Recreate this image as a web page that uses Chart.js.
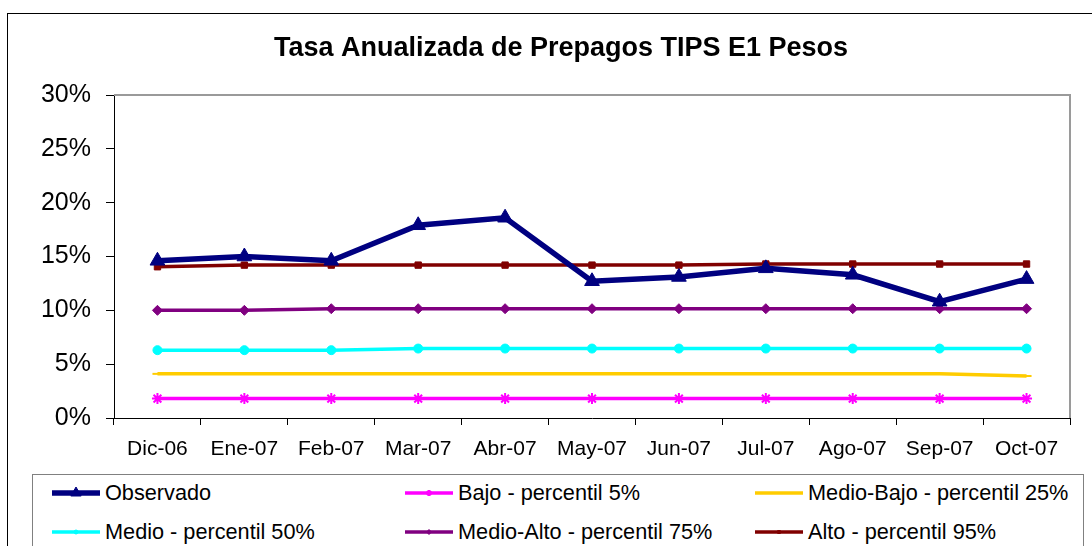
<!DOCTYPE html>
<html>
<head>
<meta charset="utf-8">
<script src="https://cdn.jsdelivr.net/npm/chart.js@4.4.0/dist/chart.umd.min.js"></script>
<style>
  html, body { margin: 0; padding: 0; background: #fff; }
  body { width: 1092px; height: 546px; position: relative; overflow: hidden; font-family: "Liberation Sans", Arial, sans-serif; }
  #outer { position: absolute; left: 7px; top: 13px; width: 1200px; height: 600px; border: 1px solid #000; }
  #chart { position: absolute; left: 0; top: 0; }
  #legendBox { position: absolute; left: 32px; top: 474px; width: 1050px; height: 100px; border: 1.5px solid #808080; background: #fff; }
  .item { position: absolute; height: 24px; line-height: 24px; font-size: 21.7px; color: #000; white-space: nowrap; }
  .item canvas { position: absolute; left: 0; top: 0; }
  .item span { position: absolute; left: 53px; top: 0; }
</style>
</head>
<body>
<div id="outer"></div>
<canvas id="chart" width="1092" height="546"></canvas>
<div id="legendBox"></div>
<div id="legend"></div>
<script>
const months = ["Dic-06", "Ene-07", "Feb-07", "Mar-07", "Abr-07", "May-07", "Jun-07", "Jul-07", "Ago-07", "Sep-07", "Oct-07"];
const observado = [14.6, 15.0, 14.6, 17.9, 18.6, 12.7, 13.1, 13.9, 13.3, 10.8, 12.9];
const bajo5 = [1.8, 1.8, 1.8, 1.8, 1.8, 1.8, 1.8, 1.8, 1.8, 1.8, 1.8];
const medioBajo25 = [4.1, 4.1, 4.1, 4.1, 4.1, 4.1, 4.1, 4.1, 4.1, 4.1, 3.9];
const medio50 = [6.3, 6.3, 6.3, 6.45, 6.45, 6.45, 6.45, 6.45, 6.45, 6.45, 6.45];
const medioAlto75 = [10.0, 10.0, 10.15, 10.15, 10.15, 10.15, 10.15, 10.15, 10.15, 10.15, 10.15];
const alto95 = [14.05, 14.2, 14.2, 14.2, 14.2, 14.2, 14.2, 14.3, 14.3, 14.3, 14.3];
const yTicks = [0, 5, 10, 15, 20, 25, 30];

const FONT = "'Liberation Sans', Arial, sans-serif";

function series(label, data, color, width, style, radius) {
  return {
    label: label,
    data: data,
    borderColor: color,
    backgroundColor: color,
    borderWidth: width,
    pointStyle: style,
    pointRadius: radius,
    pointBorderWidth: style === "star" || style === "line" ? 2 : 1,
    pointBackgroundColor: color,
    pointBorderColor: color,
    tension: 0,
  };
}

const datasets = [
  series("Observado", observado, "#000080", 5.5, "triangle", 8.5),
  series("Bajo - percentil 5%", bajo5, "#FF00FF", 3.5, "star", 5.5),
  series("Medio-Bajo - percentil 25%", medioBajo25, "#FFCC00", 3.5, "line", 5),
  series("Medio - percentil 50%", medio50, "#00FFFF", 3.5, "circle", 4.5),
  series("Medio-Alto - percentil 75%", medioAlto75, "#800080", 3.5, "rectRot", 5),
  series("Alto - percentil 95%", alto95, "#800000", 3.5, "rect", 4.5),
];

// gray frame on top and right of the plot area
const plotFrame = {
  id: "plotFrame",
  afterLayout(chart) {
    // center the title over the whole chart box, not just the canvas minus padding
    const t = chart.titleBlock;
    if (t) { t.left = 52; t.width = t.right - t.left; }
  },
  beforeDatasetsDraw(chart) {
    const a = chart.chartArea;
    const ctx = chart.ctx;
    ctx.save();
    ctx.strokeStyle = "#9a9a9a";
    ctx.lineWidth = 2;
    ctx.beginPath();
    ctx.moveTo(a.left, a.top);
    ctx.lineTo(a.right, a.top);
    ctx.lineTo(a.right, a.bottom);
    ctx.stroke();
    ctx.restore();
  },
};

new Chart(document.getElementById("chart"), {
  type: "line",
  data: { labels: months, datasets: datasets },
  options: {
    responsive: false,
    animation: false,
    layout: { padding: { left: 0, right: 22, top: 0, bottom: 0 } },
    plugins: {
      legend: { display: false },
      tooltip: { enabled: false },
      title: {
        display: true,
        text: "Tasa Anualizada de Prepagos TIPS E1 Pesos",
        color: "#000",
        font: { family: FONT, size: 27, weight: "bold" },
        padding: { top: 32, bottom: 30.6 },
      },
    },
    scales: {
      x: {
        offset: true,
        grid: { offset: true, drawOnChartArea: false, drawTicks: true, tickLength: 7, color: "#000" },
        border: { color: "#000", width: 1 },
        ticks: { color: "#000", font: { family: FONT, size: 21 }, padding: 12, maxRotation: 0, autoSkip: false },
        afterFit(scale) { scale.height = 128; },
      },
      y: {
        min: 0,
        max: 30,
        afterBuildTicks(scale) { scale.ticks = yTicks.map(v => ({ value: v })); },
        grid: { drawOnChartArea: false, drawTicks: true, tickLength: 8, color: "#000" },
        border: { color: "#000", width: 1 },
        ticks: { color: "#000", font: { family: FONT, size: 25 }, padding: 15, callback: v => v + "%" },
        afterFit(scale) { scale.width = 114; },
      },
    },
  },
  plugins: [plotFrame],
});

// legend built from the datasets, laid out in three columns like the original
const legendCols = [52, 405, 755];
const legendRows = [481, 520];
const legendEl = document.getElementById("legend");
datasets.forEach((ds, i) => {
  const item = document.createElement("div");
  item.className = "item";
  item.style.left = legendCols[i % 3] + "px";
  item.style.top = legendRows[Math.floor(i / 3)] + "px";
  const c = document.createElement("canvas");
  c.width = 50; c.height = 24;
  const ctx = c.getContext("2d");
  ctx.strokeStyle = ds.borderColor;
  ctx.lineWidth = ds.borderWidth;
  ctx.beginPath();
  ctx.moveTo(0, 12); ctx.lineTo(48, 12);
  ctx.stroke();
  if (Chart.helpers && Chart.helpers.drawPoint) {
    ctx.fillStyle = ds.pointBackgroundColor;
    ctx.strokeStyle = ds.pointBorderColor;
    ctx.lineWidth = ds.pointBorderWidth;
    Chart.helpers.drawPoint(ctx, { pointStyle: ds.pointStyle, radius: Math.max(ds.pointRadius - 2.5, 2), borderWidth: ds.pointBorderWidth, rotation: 0 }, 24, 12);
  }
  item.appendChild(c);
  const s = document.createElement("span");
  s.textContent = ds.label;
  item.appendChild(s);
  legendEl.appendChild(item);
});
</script>
</body>
</html>
